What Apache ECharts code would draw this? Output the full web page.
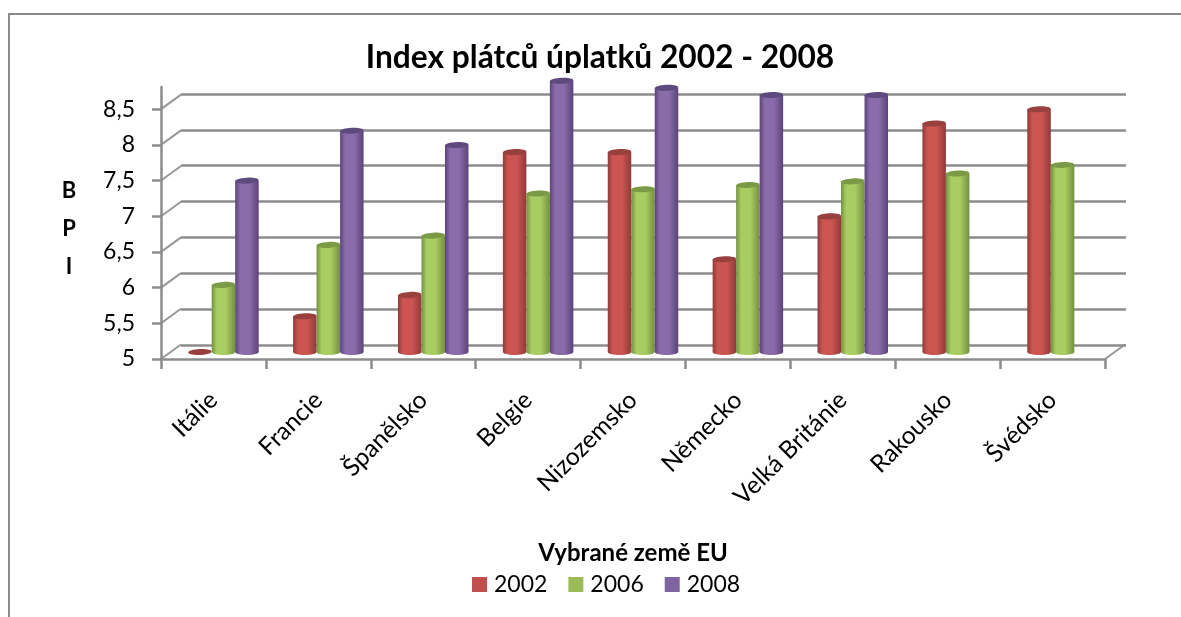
<!DOCTYPE html>
<html><head><meta charset="utf-8">
<style>html,body{margin:0;padding:0;background:#fff}#c{width:1181px;height:617px}</style>
<script src="https://cdn.jsdelivr.net/npm/echarts@6/dist/echarts.min.js"></script>
</head><body><div id="c"></div>
<script>
const categories = ['Itálie','Francie','Španělsko','Belgie','Nizozemsko','Německo','Velká Británie','Rakousko','Švédsko'];
const years = ['2002','2006','2008'];
const v2002 = [5, 5.5, 5.8, 7.8, 7.8, 6.3, 6.9, 8.2, 8.4];
const v2006 = [5.94, 6.5, 6.63, 7.22, 7.28, 7.34, 7.39, 7.5, 7.62];
const v2008 = [7.4, 8.1, 7.9, 8.8, 8.7, 8.6, 8.6, null, null];
const yTicks = [5, 5.5, 6, 6.5, 7, 7.5, 8, 8.5];
const colors = [
  {edge:'#8f3b39', mid:'#cc5552', top:'#97403d', leg:'#c0504d'},
  {edge:'#74903f', mid:'#a9cd62', top:'#7b9a45', leg:'#9bbb59'},
  {edge:'#5b4479', mid:'#8a6caa', top:'#5f4a80', leg:'#8064a2'}
];
const FONT = 'Lato, Carlito, sans-serif';
const GRAY = '#8c8c8c';
const DX = 20, DY = -14.5;      // wall depth
const BAR_W = 23.5;

const chart = echarts.init(document.getElementById('c'), null, {renderer:'canvas'});

function barSeries(idx, values){
  const c = colors[idx];
  return {
    name: years[idx], type:'custom', xAxisIndex:0, yAxisIndex:0, z:5 + idx, clip:false,
    itemStyle:{color:c.leg},
    data: values.map((v,i)=>[i,v]),
    encode:{x:0,y:1},
    renderItem(params, api){
      const v = api.value(1);
      if (v === null || isNaN(v)) return null;
      const cat = api.value(0);
      const pTop = api.coord([cat, v]);
      const pBase = api.coord([cat, 5]);
      const cx = pTop[0] + 10 + (idx-1)*BAR_W;
      const topY = pTop[1] - 7, baseY = pBase[1] - 7;
      const grad = new echarts.graphic.LinearGradient(0,0,1,0,[
        {offset:0,color:c.edge},{offset:0.22,color:c.mid},{offset:0.6,color:c.mid},{offset:1,color:c.edge}]);
      const rx = BAR_W/2, ry = 3;
      const kids = [];
      if (topY < baseY - 0.5){
        kids.push({type:'ellipse',shape:{cx,cy:baseY,rx,ry},style:{fill:grad}});
        kids.push({type:'rect',shape:{x:cx-rx,y:topY,width:BAR_W,height:baseY-topY},style:{fill:grad}});
      }
      kids.push({type:'ellipse',shape:{cx,cy:topY,rx,ry},originX:cx,originY:topY,rotation:0.05,style:{fill:c.top}});
      return {type:'group',children:kids};
    }
  };
}

// connectors between the front axis and the back wall
const connectors = {
  type:'custom', xAxisIndex:0, yAxisIndex:0, z:2, silent:true, clip:false,
  data: yTicks.map(t=>[0,t]),
  encode:{y:1},
  renderItem(params, api){
    const t = api.value(1);
    const y = api.coord([0,t])[1];
    const sys = params.coordSys;
    const ln = (x)=>({type:'line',shape:{x1:x,y1:y,x2:x+DX,y2:y+DY},style:{stroke:GRAY,lineWidth:2,opacity:0.9}});
    const kids = [ln(sys.x)];
    if (t === yTicks[0]) kids.push(ln(sys.x+sys.width));
    return {type:'group',children:kids};
  }
};

chart.setOption({
  animation:false,
  backgroundColor:'#fff',
  title:[
    {text:'Index plátců úplatků 2002 - 2008',left:595,top:37,textAlign:'center',
     textStyle:{fontFamily:FONT,fontWeight:'bold',fontSize:31.7,color:'#000'}},
    {text:'Vybrané země EU',left:628,top:536,textAlign:'center',
     textStyle:{fontFamily:FONT,fontWeight:'bold',fontSize:24,color:'#000'}},
    {text:'B\nP\nI',left:64,top:167,textAlign:'center',
     textStyle:{fontFamily:FONT,fontWeight:'bold',fontSize:22,lineHeight:38,color:'#000'}}
  ],
  legend:{
    data:years, left:467, top:568, itemWidth:15, itemHeight:15, itemGap:21, icon:'rect',
    textStyle:{fontFamily:FONT,fontSize:23,color:'#000',padding:[0,0,0,2]}
  },
  grid:[
    {left:161,top:87,width:944,height:272,containLabel:false},
    {left:181,top:94,width:945,height:251,containLabel:false}
  ],
  xAxis:[
    {gridIndex:0,type:'category',data:categories,boundaryGap:true,
     axisLine:{lineStyle:{color:GRAY,width:2.5}},
     axisTick:{show:true,alignWithLabel:false,length:10,lineStyle:{color:GRAY,width:2.5}},
     axisLabel:{interval:0,rotate:45,margin:37,fontFamily:FONT,fontSize:24.5,color:'#000'}},
    {gridIndex:1,type:'category',data:categories,show:false}
  ],
  yAxis:[
    {gridIndex:0,type:'value',min:5,max:8.81,
     splitLine:{show:false},
     axisLine:{show:true,lineStyle:{color:GRAY,width:2.5}},
     axisTick:{show:true,length:9,lineStyle:{color:GRAY,width:2.5},customValues:yTicks},
     axisLabel:{margin:26,padding:[7,0,0,0],fontFamily:FONT,fontSize:23,color:'#000',customValues:yTicks,
       formatter:v=>String(v).replace('.',',')}},
    {gridIndex:1,type:'value',min:5,max:8.5,interval:0.5,
     axisLine:{show:false},axisTick:{show:false},axisLabel:{show:false},
     splitLine:{show:true,lineStyle:{color:GRAY,width:2.5}}}
  ],
  series:[
    connectors,
    barSeries(0,v2002),
    barSeries(1,v2006),
    barSeries(2,v2008)
  ],
  graphic:[
    {type:'polyline',silent:true,z:1,shape:{points:[[9,617],[9,14],[1181,14]]},
     style:{stroke:'#8a8a8a',lineWidth:2,fill:null}}
  ]
});
</script></body></html>
